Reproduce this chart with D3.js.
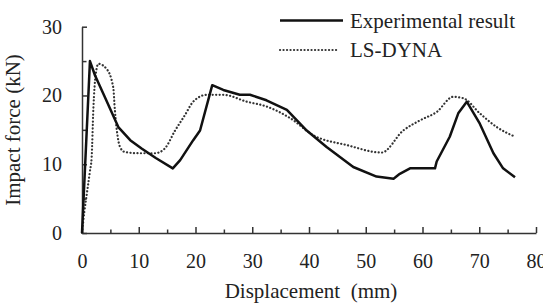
<!DOCTYPE html>
<html>
<head>
<meta charset="utf-8">
<script src="https://cdn.jsdelivr.net/npm/d3@7"></script>
<style>
  body { margin: 0; background: #fff; }
  svg text { font-family: "Times New Roman", "Liberation Serif", "DejaVu Serif", serif !important; fill: #222; }
</style>
</head>
<body>
<svg id="chart"></svg>
<script>
// displacement (mm) / impact force (kN)
const expX = [0, 1.4, 2.3, 4, 6.4, 8.5, 10.5, 13, 16, 17.3, 19.6, 20.8, 22.95, 24.9, 27.8, 29.6, 32.5, 36.1, 39.6, 43.1, 47.8, 51.9, 54.9, 56, 57.8, 62.2, 62.5, 64.8, 66.3, 67.8, 70.1, 72.5, 74.2, 76.3];
const expY = [0, 25, 22.9, 19.8, 15.4, 13.5, 12.3, 10.9, 9.4, 10.6, 13.5, 14.9, 21.5, 20.8, 20.1, 20.1, 19.3, 17.9, 14.9, 12.5, 9.6, 8.2, 7.9, 8.6, 9.4, 9.4, 10.4, 14, 17.4, 19.1, 15.9, 11.6, 9.4, 8.1];

const dynX = [0, 0.4, 0.9, 1.4, 1.7, 2.0, 2.4, 2.9, 4.3, 5.5, 5.8, 6.7, 7.5, 10, 12.9, 14.6, 16.4, 18.1, 19.6, 22, 24.9, 29, 32.5, 36.7, 40.8, 46.6, 52.8, 56.6, 59.6, 62.5, 65.4, 67.2, 70.1, 73.1, 76.3];
const dynY = [0, 3, 6, 9, 11, 18, 23, 24.6, 23.9, 21.2, 17.8, 12.5, 11.8, 11.6, 11.6, 12.3, 14.9, 17.1, 19.1, 20.1, 20.1, 19.1, 18.4, 16.7, 14.2, 12.8, 11.7, 14.9, 16.4, 17.6, 19.8, 19.6, 17.4, 15.4, 14];

const xMajor = [0, 10, 20, 30, 40, 50, 60, 70, 80];
const xMinor = [5, 15, 25, 35, 45, 55, 65, 75];
const yMajor = [0, 10, 20, 30];
const yMinor = [5, 15, 25];

const seriesNames = ["Experimental result", "LS-DYNA"];

const width = 543, height = 305;
const svg = d3.select("#chart").attr("width", width).attr("height", height);

const x = d3.scaleLinear().domain([0, 80]).range([82, 536]);
const y = d3.scaleLinear().domain([0, 30]).range([233, 26.7]);

// minor ticks first
svg.append("g")
    .attr("transform", `translate(0,${y(0)})`)
    .call(d3.axisBottom(x).tickValues(xMinor).tickSize(-3.5).tickFormat(""))
    .call(g => g.select(".domain").remove());
svg.append("g")
    .attr("transform", `translate(${x(0)},0)`)
    .call(d3.axisLeft(y).tickValues(yMinor).tickSize(-4.5).tickFormat(""))
    .call(g => g.select(".domain").remove());

// x axis
const gx = svg.append("g")
    .attr("transform", `translate(0,${y(0)})`)
    .call(d3.axisBottom(x).tickValues(xMajor).tickSize(-6).tickSizeOuter(0).tickPadding(21));
gx.attr("font-family", null).attr("font-size", null);
gx.selectAll("text").attr("font-size", "20px");

// y axis
const gy = svg.append("g")
    .attr("transform", `translate(${x(0)},0)`)
    .call(d3.axisLeft(y).tickValues(yMajor).tickSize(-5).tickSizeOuter(0).tickPadding(20));
gy.attr("font-family", null).attr("font-size", null);
gy.selectAll("text").attr("font-size", "20px");

svg.selectAll(".domain, .tick line").attr("stroke", "#333").attr("stroke-width", 1.5);

// axis titles
svg.append("text")
    .attr("x", 311).attr("y", 298)
    .attr("text-anchor", "middle")
    .attr("font-size", "21px")
    .attr("xml:space", "preserve")
    .text("Displacement  (mm)");

svg.append("text")
    .attr("transform", `translate(20,${130}) rotate(-90)`)
    .attr("text-anchor", "middle")
    .attr("font-size", "21px")
    .text("Impact force (kN)");

// curves
const expLine = d3.line()
    .x(i => x(expX[i]))
    .y(i => y(expY[i]));
const dynLine = d3.line()
    .x(i => x(dynX[i]))
    .y(i => y(dynY[i]))
    .curve(d3.curveMonotoneX);

svg.append("path")
    .attr("d", dynLine(d3.range(dynX.length)))
    .attr("fill", "none")
    .attr("stroke", "#333")
    .attr("stroke-width", 2.2)
    .attr("stroke-linecap", "round")
    .attr("stroke-dasharray", "0.1,3.4");

svg.append("path")
    .attr("d", expLine(d3.range(expX.length)))
    .attr("fill", "none")
    .attr("stroke", "#111")
    .attr("stroke-width", 2.5)
    .attr("stroke-linejoin", "round");

// legend
const legend = svg.append("g").selectAll("g")
    .data(seriesNames)
    .enter()
    .append("g")
    .attr("transform", (d, i) => `translate(280,${20.5 + i * 29.5})`);
legend.append("line")
    .attr("x1", 0).attr("x2", (d, i) => i == 0 ? 63 : 58)
    .attr("stroke", (d, i) => i == 0 ? "#111" : "#333")
    .attr("stroke-width", (d, i) => i == 0 ? 2.5 : 2.2)
    .attr("stroke-linecap", (d, i) => i == 0 ? "butt" : "round")
    .attr("stroke-dasharray", (d, i) => i == 0 ? null : "0.1,3.4");
legend.append("text")
    .attr("x", 70).attr("y", 7)
    .attr("font-size", "21px")
    .text(d => d);
</script>
</body>
</html>
